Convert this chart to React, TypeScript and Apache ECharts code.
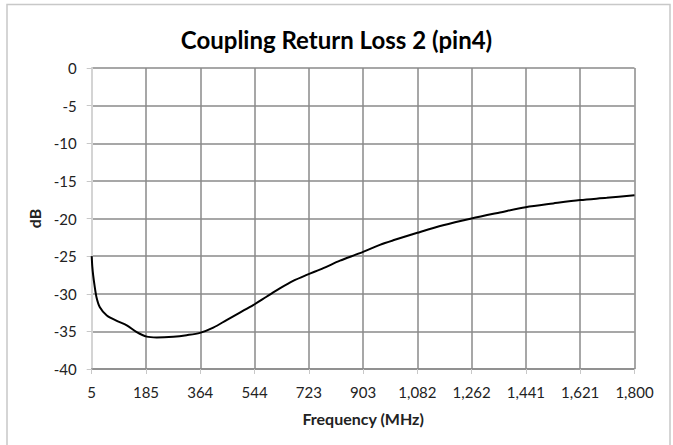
import React, { useEffect, useRef } from "react";
import * as echarts from "echarts";

const TITLE = "Coupling Return Loss 2 (pin4)";
const X_NAME = "Frequency (MHz)";
const Y_NAME = "dB";
const X_START = 5;
const X_END = 1800;
const X_STEP = 179.5;

const freqMHz = [5, 7, 10, 14, 21, 32, 55, 88, 121, 154, 187, 220, 275, 319, 363, 407, 451, 495, 539, 583, 627, 671, 716, 771, 826, 892, 958, 1002, 1082, 1167, 1261, 1355, 1440, 1531, 1620, 1708, 1800];
const lossDb = [-25, -26.4, -27.6, -28.8, -30.5, -31.8, -32.9, -33.6, -34.2, -35.1, -35.7, -35.8, -35.7, -35.5, -35.2, -34.5, -33.5, -32.5, -31.5, -30.4, -29.3, -28.3, -27.5, -26.6, -25.6, -24.6, -23.5, -22.9, -21.9, -20.9, -20.0, -19.2, -18.5, -18.0, -17.55, -17.25, -16.9];

const FONT = "Lato";

export default function App() {
  const ref = useRef<HTMLDivElement>(null);
  useEffect(() => {
    document.body.style.margin = "0";
    const chart = echarts.init(ref.current!, undefined, { renderer: "svg" });
    const data = freqMHz.map((f, i) => [f - X_START, lossDb[i]]);
    chart.setOption({
      animation: false,
      backgroundColor: "#ffffff",
      textStyle: { fontFamily: FONT },
      title: {
        text: TITLE,
        left: "center",
        top: 22,
        textStyle: { fontFamily: FONT, fontSize: 24, fontWeight: "bold", color: "#000" },
      },
      graphic: [
        {
          type: "rect",
          shape: { x: 7, y: 4.5, width: 663, height: 446 },
          style: { fill: "none", stroke: "#c8c8c8", lineWidth: 1.5 },
          silent: true,
        },
      ],
      grid: { left: 91.7, right: 38.5, top: 68, bottom: 76, containLabel: false },
      xAxis: {
        type: "value",
        min: 0,
        max: X_END - X_START,
        interval: X_STEP,
        name: X_NAME,
        nameLocation: "middle",
        nameGap: 41,
        nameTextStyle: { fontFamily: FONT, fontSize: 16, fontWeight: "bold", color: "#222" },
        axisLine: { show: true, onZero: false, lineStyle: { color: "#8a8a8a", width: 1.5 } },
        axisTick: { show: true, length: 5, lineStyle: { color: "#c8c8c8", width: 1 } },
        axisLabel: {
          margin: 15,
          fontFamily: FONT,
          fontSize: 15,
          color: "#222",
          formatter: (v: number) => Math.round(v + X_START).toLocaleString("en-US"),
        },
        splitLine: { show: true, lineStyle: { color: "#8a8a8a", width: 1.5 } },
      },
      yAxis: {
        type: "value",
        min: -40,
        max: 0,
        interval: 5,
        name: Y_NAME,
        nameLocation: "middle",
        nameRotate: 90,
        nameGap: 48,
        nameTextStyle: { fontFamily: FONT, fontSize: 16, fontWeight: "bold", color: "#222" },
        axisLine: { show: true, lineStyle: { color: "#d4d4d4", width: 2 } },
        axisTick: { show: true, length: 5, lineStyle: { color: "#c8c8c8", width: 1 } },
        axisLabel: { margin: 15, fontFamily: FONT, fontSize: 15, color: "#222" },
        splitLine: { show: true, lineStyle: { color: "#8a8a8a", width: 1.5 } },
      },
      series: [
        {
          type: "line",
          data,
          showSymbol: false,
          smooth: 0.3,
          lineStyle: { color: "#000", width: 2 },
        },
      ],
    });
    return () => chart.dispose();
  }, []);
  return <div ref={ref} style={{ position: "absolute", left: 0, top: 0, width: 673, height: 445 }} />;
}
